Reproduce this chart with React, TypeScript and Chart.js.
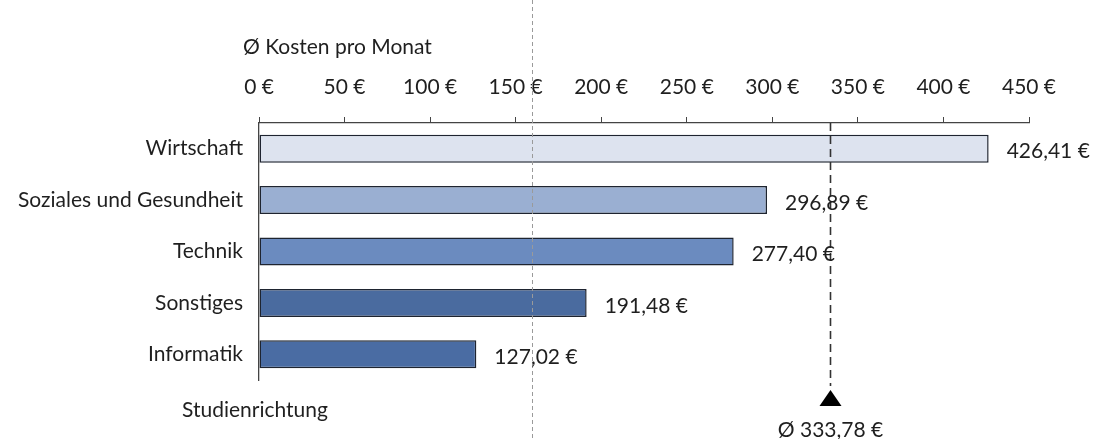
import React, { useEffect, useRef } from "react";
import { Chart, registerables } from "chart.js";

Chart.register(...registerables);

const categories = ["Wirtschaft", "Soziales und Gesundheit", "Technik", "Sonstiges", "Informatik"];
const costs = [426.41, 296.89, 277.4, 191.48, 127.02];
const barColors = ["#dde3ef", "#9aafd2", "#6b8bbf", "#4a6b9f", "#4a6ca3"];
const meanValue = 333.78;
const guideValue = 159.5;
const xMin = 0;
const xMax = 450;
const xStep = 50;

const FONT = "Lato, 'Open Sans', sans-serif";
const TEXT = "#1f1f1f";
const FS = 21;

const fmt = (v: number, dec: number) =>
  v.toFixed(dec).replace(".", ",") + " €";

const overlay = {
  id: "overlay",
  afterDatasetsDraw(chart: any) {
    const { ctx, chartArea, scales } = chart;
    const xs = scales.x;
    ctx.save();
    // light dashed guide line over full height
    const gx = Math.round(xs.getPixelForValue(guideValue)) + 0.5;
    ctx.strokeStyle = "#9a9a9a";
    ctx.lineWidth = 1;
    ctx.setLineDash([4, 3]);
    ctx.beginPath();
    ctx.moveTo(gx, 0);
    ctx.lineTo(gx, chart.height);
    ctx.stroke();

    // mean line
    const mx = Math.round(xs.getPixelForValue(meanValue)) + 0.5;
    ctx.strokeStyle = "#333333";
    ctx.lineWidth = 1.6;
    ctx.setLineDash([8, 5]);
    ctx.beginPath();
    ctx.moveTo(mx, chartArea.top);
    ctx.lineTo(mx, chartArea.bottom + 6);
    ctx.stroke();
    ctx.setLineDash([]);
    // triangle
    const ty = chartArea.bottom + 10;
    ctx.fillStyle = "#000000";
    ctx.beginPath();
    ctx.moveTo(mx, ty);
    ctx.lineTo(mx - 11, ty + 16);
    ctx.lineTo(mx + 11, ty + 16);
    ctx.closePath();
    ctx.fill();

    ctx.font = `${FS}px ${FONT}`;
    ctx.fillStyle = TEXT;
    ctx.textBaseline = "middle";
    ctx.textAlign = "center";
    ctx.fillText("Ø " + fmt(meanValue, 2), mx, chartArea.bottom + 50);

    // value labels
    const meta = chart.getDatasetMeta(0);
    ctx.textAlign = "left";
    meta.data.forEach((bar: any, i: number) => {
      ctx.fillText(fmt(costs[i], 2), bar.x + 18, bar.y + 3);
    });

    // axis titles
    ctx.textAlign = "left";
    ctx.fillText("Ø Kosten pro Monat", xs.getPixelForValue(xMin) - 16, 47);
    ctx.fillText("Studienrichtung", 182, chartArea.bottom + 30);
    ctx.restore();
  },
};

export default function App() {
  const ref = useRef<HTMLCanvasElement>(null);
  useEffect(() => {
    document.body.style.margin = "0";
    const chart = new Chart(ref.current!, {
      type: "bar",
      data: {
        labels: categories,
        datasets: [
          {
            data: costs,
            backgroundColor: barColors,
            borderColor: "#1e2430",
            borderWidth: 1.5,
            borderSkipped: false,
            barPercentage: 0.545,
            categoryPercentage: 1,
          },
        ],
      },
      options: {
        indexAxis: "y",
        responsive: false,
        animation: false,
        events: [],
        layout: { padding: { top: 0, right: 71, bottom: 59, left: 0 } },
        plugins: { legend: { display: false }, tooltip: { enabled: false } },
        scales: {
          x: {
            position: "top",
            min: xMin,
            max: xMax,
            afterFit: (s: any) => {
              s.height = 123;
            },
            ticks: {
              stepSize: xStep,
              padding: 17,
              color: TEXT,
              font: { family: FONT, size: FS },
              callback: (v: any) => `${v} €`,
            },
            grid: {
              display: true,
              drawOnChartArea: false,
              drawTicks: true,
              tickLength: 6,
              color: "#444444",
            },
            border: { display: true, color: "#444444", width: 1.3 },
          },
          y: {
            afterFit: (s: any) => {
              s.width = 259;
            },
            ticks: {
              padding: 16,
              color: TEXT,
              font: { family: FONT, size: FS },
            },
            grid: { display: false, drawTicks: false },
            border: { display: true, color: "#444444", width: 1.3 },
          },
        },
      },
      plugins: [overlay],
    });
    return () => chart.destroy();
  }, []);
  return (
    <div style={{ position: "fixed", left: 0, top: 0, width: 1100, height: 439, background: "#fff" }}>
      <canvas ref={ref} width={1100} height={439} style={{ width: 1100, height: 439 }} />
    </div>
  );
}
